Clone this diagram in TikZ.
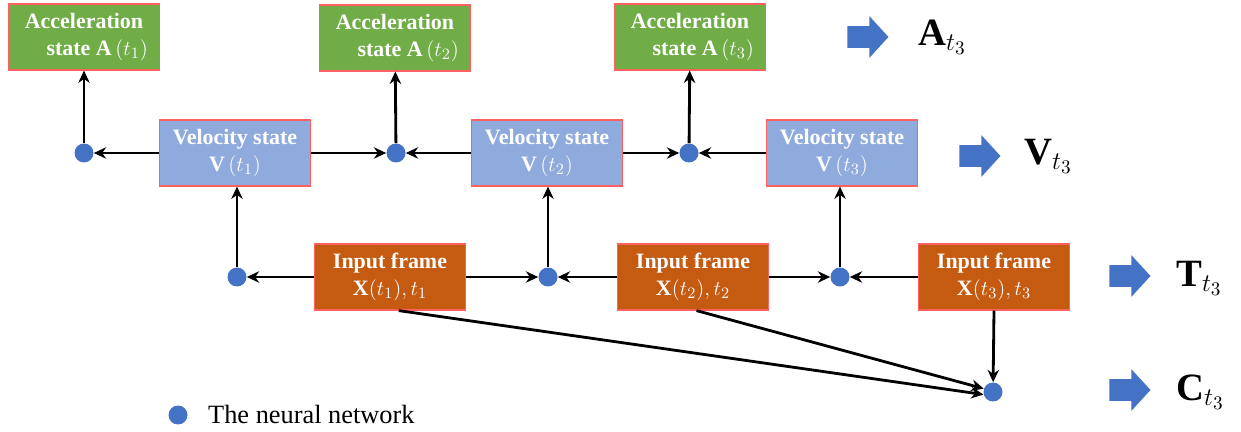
\documentclass[tikz,border=0pt]{standalone}
\usepackage{fontspec}
\setmainfont{Liberation Serif}
\usetikzlibrary{arrows.meta,shapes.arrows,positioning}
\definecolor{accgreen}{HTML}{70AD47}
\definecolor{velblue}{HTML}{8FAADC}
\definecolor{inorange}{HTML}{C55A11}
\definecolor{netblue}{HTML}{4472C4}
\definecolor{edgered}{HTML}{FF6060}
\tikzset{%
  box/.style={draw=edgered, line width=0.7pt, minimum width=3.02cm, minimum height=1.32cm,
    align=center, text=white, font=\fontsize{12.5}{15}\selectfont\bfseries},
  acc box/.style={fill=accgreen, box},
  vel box/.style={fill=velblue, box},
  in box/.style={fill=inorange, box},
  point/.style={circle, inner sep=0pt, minimum size=0.38cm},
  net point/.style={fill=netblue, point},
  flow/.style={line width=1.6pt, -{Stealth[length=7pt,width=6.5pt]}},
  out arrow/.style={single arrow, fill=netblue, minimum height=0.82cm,
    single arrow head extend=0.2cm, single arrow tip angle=95, inner sep=0pt},
  out label/.style={anchor=west, font=\fontsize{22}{26}\selectfont\bfseries}
}
\newcommand{\arrowbody}{\rule{0.3cm}{0pt}\rule[-0.21cm]{0pt}{0.42cm}}

\begin{document}
\begin{tikzpicture}[x=0.02cm, y=-0.02cm]
  \useasboundingbox (0,0) rectangle (1241,432);

  % acceleration row
  \node[acc box] (acc1) at (84,37)  {Acceleration\\ \hspace*{1.2em}state A$\,(t_1)$};
  \node[acc box] (acc2) at (395,38) {Acceleration\\ \hspace*{1.2em}state A$\,(t_2)$};
  \node[acc box] (acc3) at (690,37) {Acceleration\\ \hspace*{1.2em}state A$\,(t_3)$};

  % velocity row
  \node[vel box] (vel1) at (235,153) {Velocity state\\ V$\,(t_1)$};
  \node[vel box] (vel2) at (547,153) {Velocity state\\ V$\,(t_2)$};
  \node[vel box] (vel3) at (842,153) {Velocity state\\ V$\,(t_3)$};

  % input row
  \node[in box] (in1) at (390,277) {Input frame\\ X$(t_1),t_1$};
  \node[in box] (in2) at (693,277) {Input frame\\ X$(t_2),t_2$};
  \node[in box] (in3) at (994,277) {Input frame\\ X$(t_3),t_3$};

  % networks
  \node[net point] (na1) at (84,153) {};
  \node[net point] (na2) at (396,153) {};
  \node[net point] (na3) at (689,153) {};
  \node[net point] (nv1) at (237,277) {};
  \node[net point] (nv2) at (548,277) {};
  \node[net point] (nv3) at (840,277) {};
  \node[net point] (nc) at (993,392) {};

  \draw[flow] (vel1) -- (na1);
  \draw[flow] (vel1) -- (na2);
  \draw[flow] (vel2) -- (na2);
  \draw[flow] (vel2) -- (na3);
  \draw[flow] (vel3) -- (na3);
  \draw[flow] (na1) -- (acc1);
  \draw[flow] (na2) -- (acc2);
  \draw[flow] (na3) -- (acc3);

  \draw[flow] (in1) -- (nv1);
  \draw[flow] (in1) -- (nv2);
  \draw[flow] (in2) -- (nv2);
  \draw[flow] (in2) -- (nv3);
  \draw[flow] (in3) -- (nv3);
  \draw[flow] (nv1) -- (nv1 |- vel1.south);
  \draw[flow] (nv2) -- (nv2 |- vel2.south);
  \draw[flow] (nv3) -- (nv3 |- vel3.south);

  \draw[flow] ([xshift=5]in1.south) -- (nc.195);
  \draw[flow] ([xshift=2]in2.south) -- (nc.160);
  \draw[flow] (in3.south) -- (nc);

  % outputs
  \node[out arrow] (oa) at (863,37) {\arrowbody};
  \node[out label] (la) at (912,37) {A$_{t_3}$};
  \node[out arrow] (ov) at (975,156) {\arrowbody};
  \node[out label] (lv) at (1018,156) {V$_{t_3}$};
  \node[out arrow] (ot) at (1125,276) {\arrowbody};
  \node[out label] (lt) at (1170,278) {T$_{t_3}$};
  \node[out arrow] (oc) at (1125,390) {\arrowbody};
  \node[out label] (lc) at (1170,392) {C$_{t_3}$};

  % legend
  \node[net point] (key) at (178,415) {};
  \node[anchor=west, font=\fontsize{15}{18}\selectfont] (keytext) at (202,414) {The neural network};
\end{tikzpicture}
\end{document}
